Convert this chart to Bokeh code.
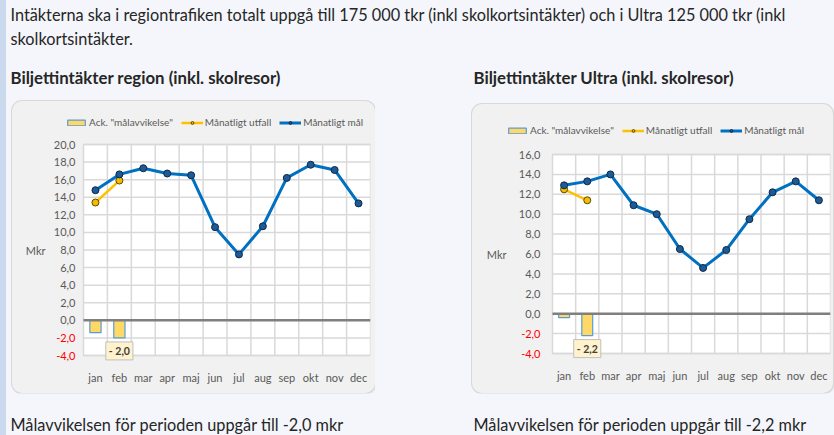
from bokeh.plotting import figure
from bokeh.models import (Range1d, FixedTicker, Legend, LegendItem, Label, Spacer, ColumnDataSource)
from bokeh.layouts import column, row
from bokeh.embed import file_html
from bokeh.resources import INLINE
from bokeh.core.properties import value

# ---------------- data ----------------
months = ["jan", "feb", "mar", "apr", "maj", "jun", "jul", "aug", "sep", "okt", "nov", "dec"]

region_goal = [14.8, 16.6, 17.3, 16.7, 16.5, 10.6, 7.5, 10.7, 16.2, 17.7, 17.1, 13.3]
region_actual = [13.4, 15.9]
region_dev = [-1.4, -2.0]
region_yticks = [-4, -2, 0, 2, 4, 6, 8, 10, 12, 14, 16, 18, 20]

ultra_goal = [12.9, 13.3, 14.0, 10.9, 10.0, 6.5, 4.6, 6.4, 9.5, 12.2, 13.3, 11.4]
ultra_actual = [12.5, 11.4]
ultra_dev = [-0.4, -2.2]
ultra_yticks = [-4, -2, 0, 2, 4, 6, 8, 10, 12, 14, 16]

intro_1 = "Intäkterna ska i regiontrafiken totalt uppgå till 175 000 tkr (inkl skolkortsintäkter) och i Ultra 125 000 tkr (inkl"
intro_2 = "skolkortsintäkter."
title_region = "Biljettintäkter region (inkl. skolresor)"
title_ultra = "Biljettintäkter Ultra (inkl. skolresor)"
legend_labels = ['Ack. "målavvikelse"', "Månatligt utfall", "Månatligt mål"]
y_label = "Mkr"

PAGE_BG = "#f4f6fb"
STRIP_BG = "#cbd9ef"
BOX_BG = "#f1f1f1"
GRID = "#d9d9d9"
FONT = "Lato"
GREY_TXT = "#595959"
BODY_TXT = "#262626"


def fmt(v):
    return f"{v:.1f}".replace(".", ",")


def make_chart(goal, actual, dev, yticks, W, H, pl, pr, pt, pb,
               tick_gap, mkr_gap, legend_left, legend_center):
    """W,H box size; pl,pr,pt,pb = plot-area edges inside the box (px)."""
    n = len(months)
    plot_w = pr - pl
    plot_h = pb - pt
    cat_px = plot_w / n
    unit_px = plot_h / (yticks[-1] - yticks[0])
    ext = 6  # extra frame below the plot area so the data label is not clipped
    x_range = Range1d(-pl / cat_px, n)
    y_range = Range1d(yticks[0] - ext / unit_px, yticks[-1] + pt / unit_px)
    bottom_border = H - pb - ext

    p = figure(width=W, height=H, x_range=x_range, y_range=y_range,
               output_backend="svg", toolbar_location=None, y_axis_location=None,
               min_border_left=0, min_border_top=0, min_border_right=W - pr,
               min_border_bottom=bottom_border)
    p.border_fill_color = None
    p.background_fill_color = None
    p.outline_line_color = None
    p.grid.visible = False
    p.styles = {"background-color": BOX_BG, "border-radius": "10px",
                "box-shadow": "0 0 0 1px #d8d8d8, 1px 1px 2px #cfcfcf"}

    mx = [i + 0.5 for i in range(n)]          # centres of the month categories
    bounds = list(range(1, n))                 # category boundaries

    # plot area, grid
    p.quad(left=[0], right=[n], bottom=[yticks[0]], top=[yticks[-1]],
           fill_color="white", line_color=GRID, line_width=1.5)
    p.segment(x0=bounds, x1=bounds, y0=[yticks[0]] * len(bounds), y1=[yticks[-1]] * len(bounds),
              line_color=GRID, line_width=1.5)
    p.segment(x0=[0] * len(yticks), x1=[n] * len(yticks), y0=yticks, y1=yticks,
              line_color=GRID, line_width=1.5)

    n_a = len(actual)
    n_d = len(dev)
    bars = p.vbar(x=mx[:n_d], top=dev, bottom=0, width=0.47,
                  fill_color="#ffd966", line_color="#5b9bd5", line_width=1.2)
    p.segment(x0=[0], x1=[n], y0=[0], y1=[0], line_color="#7f7f7f", line_width=2.5)
    al = p.line(mx[:n_a], actual, line_color="#ffc000", line_width=2.5)
    asc = p.scatter(mx[:n_a], actual, size=7, fill_color="#f2bd00",
                    line_color="#5c4a00", line_width=1)
    gl = p.line(mx, goal, line_color="#0070c0", line_width=3)
    gsc = p.scatter(mx, goal, size=7, fill_color="#1f5a96",
                    line_color="#0b2a4a", line_width=1)

    # y tick labels (negative ones red) and the "Mkr" label
    src = ColumnDataSource(dict(x=[0] * len(yticks), y=yticks, t=[fmt(v) for v in yticks],
                                c=["#ff0000" if v < 0 else GREY_TXT for v in yticks]))
    p.text(x="x", y="y", text="t", text_color="c", source=src, x_offset=-tick_gap,
           text_align="right", text_baseline="middle",
           text_font=value(FONT), text_font_size="11px")
    p.text(x=[0], y=[(yticks[0] + yticks[-1]) / 2], text=[y_label], x_offset=-mkr_gap,
           text_align="right", text_baseline="middle", text_color=GREY_TXT,
           text_font=value(FONT), text_font_size="11px")

    # x axis with month names
    xax = p.xaxis[0]
    xax.ticker = FixedTicker(ticks=mx)
    xax.major_label_overrides = {x: m for x, m in zip(mx, months)}
    xax.axis_line_color = None
    xax.major_tick_line_color = None
    xax.minor_tick_line_color = None
    xax.major_label_standoff = 3
    xax.major_label_text_font = FONT
    xax.major_label_text_font_size = "11px"
    xax.major_label_text_color = GREY_TXT

    # data label on last deviation bar
    last = dev[-1]
    p.add_layout(Label(x=mx[n_d - 1], y=last, y_offset=-4,
                       text="- " + fmt(abs(last)), text_align="center", text_baseline="top",
                       text_font=FONT, text_font_size="10.5px", text_font_style="bold",
                       text_color="#404040", background_fill_color="#fff2cc",
                       border_line_color="#bfbfbf", padding=3))

    frame_h = H - bottom_border
    item_h = 12
    legend = Legend(items=[LegendItem(label=legend_labels[0], renderers=[bars]),
                           LegendItem(label=legend_labels[1], renderers=[al, asc]),
                           LegendItem(label=legend_labels[2], renderers=[gl, gsc])],
                    orientation="horizontal",
                    location=(legend_left, frame_h - legend_center - item_h / 2),
                    glyph_width=22, glyph_height=7, label_standoff=2, spacing=8,
                    padding=0, margin=0, background_fill_alpha=0, border_line_color=None,
                    label_text_font=FONT, label_text_font_size="10px",
                    label_text_color=GREY_TXT)
    p.add_layout(legend, "center")
    return p


def text_fig(w, h, labels):
    p = figure(width=w, height=h, x_range=Range1d(0, w), y_range=Range1d(h, 0),
               output_backend="svg", toolbar_location=None, min_border=0,
               x_axis_type=None, y_axis_type=None)
    p.outline_line_color = None
    p.background_fill_color = PAGE_BG
    p.border_fill_color = PAGE_BG
    p.grid.visible = False
    for (x, y, txt, size, bold) in labels:
        p.add_layout(Label(x=x, y=y, text=txt, text_baseline="middle", text_align="left",
                           text_font=FONT, text_font_size=size,
                           text_font_style="bold" if bold else "normal",
                           text_color=BODY_TXT))
    return p


W = 828
top = text_fig(W, 101, [(4, 14, intro_1, "16.3px", False), (4, 38, intro_2, "16.3px", False),
                        (4, 76.5, title_region, "16.8px", True), (467, 76.5, title_ultra, "16.8px", True)])

left = make_chart(region_goal, region_actual, region_dev, region_yticks, 363, 292,
                  71, 358, 43, 254, 8, 38, 53, 21)
right = make_chart(ultra_goal, ultra_actual, ultra_dev, ultra_yticks, 361, 289,
                   80, 358, 50, 249, 12, 46, 34, 26)

bottom = text_fig(W, 42, [(4, 31, "Målavvikelsen för perioden uppgår till " + fmt(region_dev[-1]) + " mkr", "16.3px", False),
                          (467, 31, "Målavvikelsen för perioden uppgår till " + fmt(ultra_dev[-1]) + " mkr", "16.3px", False)])

charts = row(Spacer(width=6, height=292, styles={"background-color": PAGE_BG}), left,
             Spacer(width=97, height=292, styles={"background-color": PAGE_BG}),
             column(Spacer(width=361, height=3, styles={"background-color": PAGE_BG}), right,
                    styles={"background-color": PAGE_BG}),
             styles={"background-color": PAGE_BG})
main = column(top, charts, bottom, styles={"background-color": PAGE_BG})
page = row(Spacer(width=6, height=435, styles={"background-color": STRIP_BG}), main,
           styles={"background-color": PAGE_BG})

open("out.html", "w").write(file_html(page, INLINE))
